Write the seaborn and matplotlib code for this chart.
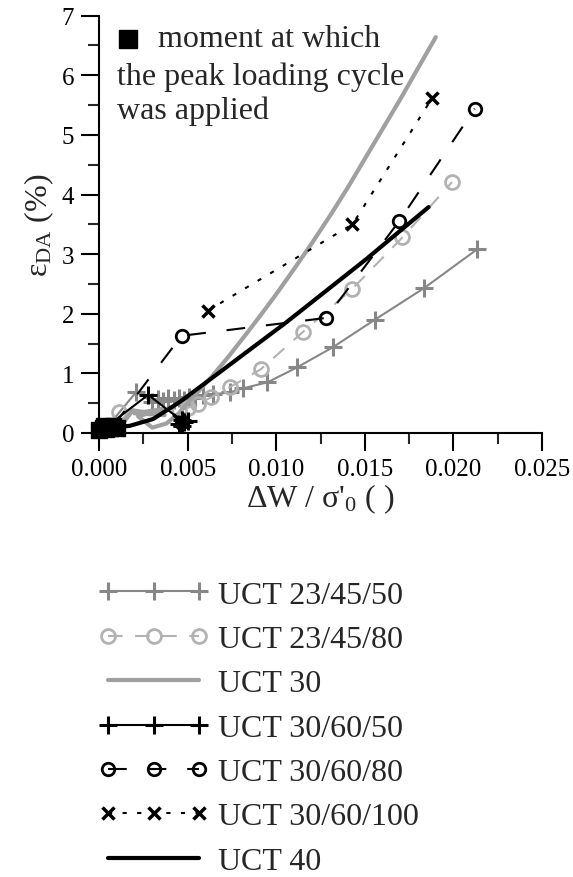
import numpy as np
import pandas as pd
import matplotlib
matplotlib.use("Agg")
import matplotlib.pyplot as plt
from matplotlib.ticker import MultipleLocator, FormatStrFormatter
import seaborn as sns

# ---------------- data ----------------
# UCT 23/45/50  (gray, + markers, thin solid)
x_23_45_50 = [0.0004, 0.0021, 0.0030, 0.0033, 0.0036, 0.0039, 0.0042, 0.0045, 0.0048,
              0.0051, 0.0054, 0.00587, 0.00643, 0.00738, 0.00813, 0.0095, 0.01117,
              0.0132, 0.01556, 0.01834, 0.02133]
y_23_45_50 = [0.08, 0.69, 0.52, 0.57, 0.54, 0.58, 0.55, 0.59, 0.56,
              0.60, 0.58, 0.63, 0.65, 0.68, 0.75, 0.85, 1.10,
              1.44, 1.90, 2.43, 3.08]

# UCT 23/45/80  (light gray, open circles, dashed)
x_23_45_80 = [0.0004, 0.00113, 0.0045, 0.0050, 0.00559, 0.00634, 0.00738, 0.00913,
              0.01148, 0.0143, 0.01712, 0.01992]
y_23_45_80 = [0.08, 0.36, 0.38, 0.42, 0.49, 0.60, 0.77, 1.07,
              1.69, 2.42, 3.28, 4.21]

# UCT 30  (gray, thick solid, no markers)
x_30 = [0.0000, 0.0010, 0.0019, 0.0037, 0.0020, 0.0036, 0.0022, 0.0030, 0.0038,
        0.0045, 0.0053, 0.0064, 0.0073, 0.0083, 0.0091, 0.0100, 0.0110, 0.0120,
        0.0130, 0.0140, 0.0150, 0.0160, 0.0170, 0.0180, 0.0190]
y_30 = [0.03, 0.03, 0.38, 0.30, 0.33, 0.40, 0.28, 0.09, 0.16,
        0.33, 0.60, 0.96, 1.28, 1.66, 1.97, 2.33, 2.75, 3.18,
        3.63, 4.10, 4.60, 5.10, 5.60, 6.12, 6.64]

# UCT 30/60/50  (black, + markers, thin solid)
x_30_60_50 = [0.0003, 0.00277, 0.00465, 0.0045, 0.0048, 0.0047, 0.0050]
y_30_60_50 = [0.08, 0.64, 0.21, 0.15, 0.18, 0.12, 0.20]

# UCT 30/60/80  (black, open circles, dashed)
x_30_60_80 = [0.0008, 0.00465, 0.0128, 0.01693, 0.0212]
y_30_60_80 = [0.12, 1.63, 1.93, 3.55, 5.44]

# UCT 30/60/100  (black, x markers, dotted)
x_30_60_100 = [0.00612, 0.0143, 0.0188]
y_30_60_100 = [2.05, 3.50, 5.62]
x_30_60_100_low = [0.0045, 0.0047]
y_30_60_100_low = [0.22, 0.18]

# UCT 40  (black, thick solid)
x_40 = [0.0000, 0.00173, 0.00305, 0.00455, 0.00681, 0.01058, 0.01509, 0.0186]
y_40 = [0.07, 0.12, 0.235, 0.52, 1.02, 1.86, 2.92, 3.79]

# moment at which the peak loading cycle was applied (black squares)
x_peak = [0.0000, 0.0002, 0.0004, 0.0006, 0.0008, 0.0010, 0.0003]
y_peak = [0.05, 0.08, 0.06, 0.09, 0.11, 0.08, 0.12]

labels = ["UCT 23/45/50", "UCT 23/45/80", "UCT 30", "UCT 30/60/50",
          "UCT 30/60/80", "UCT 30/60/100", "UCT 40"]

# ---------------- style ----------------
sns.set_theme(style="ticks")
plt.rcParams["font.family"] = ["Liberation Serif", "DejaVu Serif"]
plt.rcParams["mathtext.fontset"] = "custom"
plt.rcParams["mathtext.rm"] = "Liberation Serif"
plt.rcParams["mathtext.it"] = "Liberation Serif:italic"

fig = plt.figure(figsize=(5.73, 8.78), dpi=100)
ax = fig.add_axes([0.173, 0.5057, 0.773, 0.4753])

c_gray = "#878787"
c_light = "#b2b2b2"
c_mid = "#a0a0a0"


def line(x, y, color, lw, label=None, marker="None", ms=0, mew=0,
         dashes=None, mfc=None):
    sns.lineplot(x=x, y=y, sort=False, estimator=None, ax=ax, color=color,
                 lw=lw, label=label)
    ln = ax.lines[-1]
    ln.set_marker(marker)
    if marker != "None":
        ln.set_markersize(ms)
        ln.set_markeredgewidth(mew)
        ln.set_markeredgecolor(color)
        ln.set_markerfacecolor(mfc if mfc is not None else color)
    if dashes is None:
        ln.set_linestyle("-")
    else:
        ln.set_dashes(dashes)
    return ln


line(x_23_45_50, y_23_45_50, c_gray, 1.5, labels[0], marker="+", ms=13, mew=2.2)
line(x_23_45_80, y_23_45_80, c_light, 1.5, labels[1], marker="o", ms=10, mew=2.0,
     mfc="none", dashes=(7, 6))
line(x_30, y_30, c_mid, 3.0, labels[2])
line(x_30_60_50, y_30_60_50, "black", 1.5, labels[3], marker="+", ms=13, mew=2.2)
line(x_30_60_80, y_30_60_80, "black", 1.5, labels[4], marker="o", ms=9, mew=2.0,
     mfc="none", dashes=(9, 10))
line(x_30_60_100, y_30_60_100, "black", 1.5, labels[5], marker="x", ms=9, mew=2.5,
     dashes=(2, 5))
ax.plot(x_30_60_100_low, y_30_60_100_low, ls="none", color="black", marker="x",
        ms=9, mew=2.5)
line(x_40, y_40, "black", 3.0, labels[6])
ax.plot(x_peak, y_peak, ls="none", marker="s", ms=12, color="black",
        clip_on=False, zorder=10)

ax.set_xlim(0, 0.025)
ax.set_ylim(0, 7)
ax.xaxis.set_major_locator(MultipleLocator(0.005))
ax.xaxis.set_minor_locator(MultipleLocator(0.0025))
ax.xaxis.set_major_formatter(FormatStrFormatter("%.3f"))
ax.yaxis.set_major_locator(MultipleLocator(1))
ax.yaxis.set_minor_locator(MultipleLocator(0.5))
ax.tick_params(which="major", direction="out", length=13, width=1.5,
               labelsize=18, colors="black", pad=5)
ax.tick_params(which="minor", direction="out", length=8, width=1.5)
for s in ["top", "right"]:
    ax.spines[s].set_visible(False)
for s in ["left", "bottom"]:
    ax.spines[s].set_linewidth(1.5)
    ax.spines[s].set_color("black")

ax.set_ylabel(r"ε$_{\mathrm{DA}}$ (%)", fontsize=23, labelpad=4)
ax.set_xlabel(r"ΔW / σ'$_{0}$ ( )", fontsize=23, labelpad=1)

# annotation text
ax.plot([0.00163], [6.61], ls="none", marker="s", ms=13, color="black")
ax.text(0.00333, 6.61, "moment at which", fontsize=23, va="center", ha="left")
ax.text(0.001, 5.98, "the peak loading cycle", fontsize=23, va="center", ha="left")
ax.text(0.001, 5.42, "was applied", fontsize=23, va="center", ha="left")

handles, labs = ax.get_legend_handles_labels()
if ax.get_legend() is not None:
    ax.get_legend().remove()
fig.legend(handles, labs, loc="upper left", bbox_to_anchor=(0.172, 0.338),
           frameon=False, fontsize=23, numpoints=3, handlelength=3.45,
           handletextpad=0.3, labelspacing=0.47, borderpad=0, borderaxespad=0)

fig.savefig("out.png", dpi=100)
